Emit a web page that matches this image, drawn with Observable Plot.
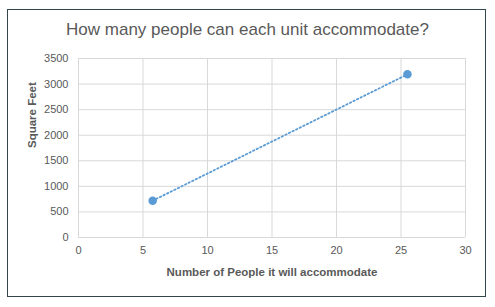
<!DOCTYPE html>
<html><head><meta charset="utf-8">
<script src="https://cdn.jsdelivr.net/npm/d3@7"></script>
<script src="https://cdn.jsdelivr.net/npm/@observablehq/plot@0.6"></script>
<style>
body{margin:0;background:#fff;}
#wrap{position:relative;width:495px;height:307px;overflow:hidden;font-family:"Liberation Sans",Arial,sans-serif;}
#frame{position:absolute;left:7px;top:9px;width:477px;height:286px;border:1px solid #33464d;}
#title{position:absolute;left:0;top:20px;width:495px;text-align:center;font-size:17px;color:#595959;}
#chart{position:absolute;left:0;top:0;}
</style></head>
<body>
<div id="wrap"><div id="frame"></div><div id="chart"></div><div id="title">How many people can each unit accommodate?</div></div>
<script>
const people = [5.75, 25.5];
const sqft = [720, 3190];
const xTicks = [0, 5, 10, 15, 20, 25, 30];
const yTicks = [0, 500, 1000, 1500, 2000, 2500, 3000, 3500];
const data = people.map((p, i) => ({people: p, sqft: sqft[i]}));
const blue = "#5b9bd5";
const fmt = d => String(d);
const chart = Plot.plot({
  width: 495, height: 307,
  marginLeft: 78, marginRight: 30, marginTop: 58, marginBottom: 70,
  style: {fontFamily: "Liberation Sans, Arial, sans-serif", fontSize: "11px", color: "#595959", background: "transparent"},
  x: {domain: [0, 30], label: null},
  y: {domain: [0, 3500], label: null},
  marks: [
    Plot.gridX(xTicks, {stroke: "#d9d9d9", strokeOpacity: 1}),
    Plot.gridY(yTicks, {stroke: "#d9d9d9", strokeOpacity: 1}),
    Plot.axisX({ticks: xTicks, tickSize: 0, tickPadding: 9, tickFormat: fmt, label: null}),
    Plot.axisY({ticks: yTicks, tickSize: 0, tickPadding: 10, tickFormat: fmt, label: null}),
    Plot.line(data, {x: "people", y: "sqft", stroke: blue, strokeWidth: 1.8, strokeDasharray: "1.5,2.5"}),
    Plot.dot(data, {x: "people", y: "sqft", r: 3.5, fill: blue, stroke: blue}),
    Plot.text(["Number of People it will accommodate"], {frameAnchor: "bottom", dy: 38, fontWeight: "bold", fontSize: 11.5, fill: "#595959", text: d => d}),
    Plot.text(["Square Feet"], {frameAnchor: "left", dx: -46, rotate: -90, fontWeight: "bold", fontSize: 11.5, fill: "#595959", text: d => d})
  ]
});
document.getElementById("chart").appendChild(chart);
</script>
</body></html>
